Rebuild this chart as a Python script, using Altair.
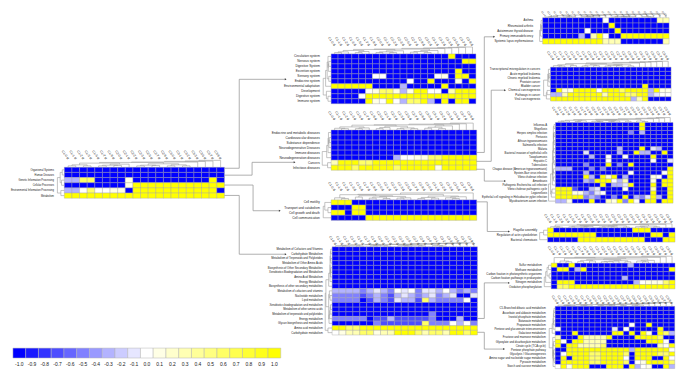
import altair as alt
import pandas as pd

# ---------- values ----------
CODE = {"B": -1.0, "d": -0.7, "p": -0.5, "l": -0.3, "x": -0.1, "w": 0.0,
        "c": 0.1, "q": 0.3, "m": 0.6, "Y": 1.0}
BLUE = "BBBBBBBBBBBBBBBBBBBBB"
COLUMNS = ["C1-0 d", "C1-1 d", "C1-2 d", "C1-3 d", "C1-5 d", "C1-7 d", "C1-9 d",
           "C2-0 d", "C2-1 d", "C2-2 d", "C2-3 d", "C2-5 d", "C2-7 d", "C2-9 d",
           "C3-0 d", "C3-1 d", "C3-2 d", "C3-3 d", "C3-5 d", "C3-7 d", "C3-9 d"]
LEGEND = [-1.0, -0.9, -0.8, -0.7, -0.6, -0.5, -0.4, -0.3, -0.2, -0.1, 0.0,
          0.1, 0.2, 0.3, 0.4, 0.5, 0.6, 0.7, 0.8, 0.9, 1.0]

A_rows = ["Organismal Systems", "Human Diseases", "Genetic Information Processing",
          "Cellular Processes", "Environmental Information Processing", "Metabolism"]
A_vals = [BLUE, BLUE, "llmmBBBBcBBBBBBBBBBYB", "BBBBBBBBcYYYYYYYYYYYY",
          "llwmwwccBYYYYYYYYYYYB", "YYYYYYYYYYYYYYYYYYYYY"]
A_coltree = [.2, .35, .2, .6, .2, .3, .25, .45, .7, .2, .3, .25, .5, .2, .35, .2, .75, .85, .9, 1]
A_rowtree = [.3, .6, .4, 1, .5]

B_rows = ["Circulation system", "Nervous system", "Digestive System", "Excretion system",
          "Sensory system", "Endocrine system", "Environmental adaptation", "Development",
          "Digestive system", "Immune system"]
B_vals = ["BBBBBBBBBBBBBBBBBYBBB", "BBBBBBBBBBBBBBBBBBBYY", BLUE, "BBBBBBBBBBBBBBBBBBYBB",
          "BBBBBBwwBBBBBBBwcBYYB", "BBBBBBBBBBBwBBYBBBcBY", "YYYYYYBBBBlBBBBBYBBBB",
          "BBBBBwcmmclcYYwwBqYYY", "BBBBwYYYYYYYYYYYYYYYY", "BBBBBYcwYwlmmYlBYBYYB"]
B_coltree = [.2, .3, .5, .2, .35, .65, .2, .3, .2, .45, .7, .25, .35, .2, .5, .8, .85, .9, .95, 1]
B_rowtree = [.4, .3, .35, .5, .3, .7, 1, .6, .4]

C_rows = ["Endocrine and metabolic diseases", "Cardiovascular diseases", "Substance dependence",
          "Neurodegenerative Diseases", "Immune diseases", "Neurodegeneration diseases",
          "Cancers", "Infectious diseases"]
C_vals = [BLUE, BLUE, BLUE, BLUE, BLUE, "BBBBBBBBBlwwccmmYYYYY",
          "qYYYmmYYYYYYYYYYYYYYY", "YYYmYYYYYmYYYYYcYYYYY"]
C_coltree = [.25, .2, .45, .2, .3, .7, .2, .35, .55, .2, .3, .2, .75, .25, .4, .2, .6, .85, .9, 1]
C_rowtree = [.3, .2, .25, .35, .5, 1, .4]

D_rows = ["Cell motility", "Transport and catabolism", "Cell growth and death", "Cell communication"]
D_vals = ["YYYBBBBBBBBBBBBBBBBBB", "BBBYYBBBBBBBBBBBBBBBB", "YYBYYBBBBBBBBBBBBBBBB",
          "BBBBBYYYYYYYYYYYYYYYY"]
D_coltree = [.3, .2, .75, .4, .6, .25, .4, .2, .5, .25, .3, .8, .2, .35, .25, .55, .3, .2, .45, 1]
D_rowtree = [.8, .4, 1]

E_rows = ["Metabolism of Cofactors and Vitamins", "Carbohydrate Metabolism",
          "Metabolism of Terpenoids and Polyketides", "Metabolism of Other Amino Acids",
          "Biosynthesis of Other Secondary Metabolites", "Xenobiotics Biodegradation and Metabolism",
          "Amino Acid Metabolism", "Energy Metabolism",
          "Biosynthesis of other secondary metabolites", "Metabolism of cofactors and vitamins",
          "Nucleotide metabolism", "Lipid metabolism", "Xenobiotics biodegradation and metabolism",
          "Metabolism of other amino acids", "Metabolism of terpenoids and polyketides",
          "Energy metabolism", "Glycan biosynthesis and metabolism", "Amino acid metabolism",
          "Carbohydrate metabolism"]
E_vals = [BLUE, BLUE, BLUE, BLUE, BLUE, BLUE, BLUE, BLUE, BLUE,
          "llllplxlpwxwpxxlwlplp", "ppppdplpdlxlplxplxBBx", "ppppBdlpdxlldmlppppwB",
          BLUE, BLUE, "BBBBBBBBBBBBBBpBBBBBB", "pppppBddldddddpBBBlBB",
          "BBBBBBpddddddmpppwlwp", "YYmmYYYYYYYYYYYYYYYYY", "wcqqmmcqqYYYmqmmqYYmY"]
E_coltree = [.3, .2, .4, .2, .5, .25, .35, .2, .6, .3, .2, .4, .25, .65, .3, .2, .8, .9, .95, 1]
E_rowtree = [.2, .25, .2, .3, .2, .25, .3, .5, .9, .4, .3, .5, .25, .3, .35, .45, 1, .6]

F_rows = ["Asthma", "Rheumatoid arthritis", "Autoimmune thyroid disease",
          "Primary immunodeficiency", "Systemic lupus erythematosus"]
F_vals = ["BBBBBBBBBBwBBBBBBBBqq", "BBBBBBBBBBBYBBBBBBBBB", "BBBBBBBwBBBBYBBBBBBBB",
          "BBBBBBlBqYwBBYYYYYYYY", "YYYYYYYYYYqqqBBBBBBBq"]
F_coltree = [.2, .3, .5, .2, .25, .7, .3, .2, .4, .6, .75, .2, .3, .25, .35, .85, .3, .2, .9, 1]
F_rowtree = [.5, .4, .7, 1]

G_rows = ["Transcriptional misregulation in cancers", "Acute myeloid leukemia",
          "Chronic myeloid leukemia", "Prostate cancer", "Bladder cancer",
          "Chemical carcinogenesis", "Pathways in cancer", "Viral carcinogenesis"]
G_vals = [BLUE, BLUE, BLUE, BLUE, "BBBBBBBBBBBBBBBBYBBBB", "BYccYYYYwYYYmYYYYlYcc",
          "llqYYYYYYqYYYmmYYlxww", "YYYYYYYYYYYYYYlqYBBBB"]
G_coltree = [.25, .2, .4, .3, .6, .2, .35, .25, .5, .2, .3, .25, .4, .2, .7, .8, .85, .9, .95, 1]
G_rowtree = [.3, .2, .25, .4, 1, .5, .6]

H_rows = ["Influenza A", "Shigellosis", "Herpes simplex infection", "Pertussis",
          "African trypanosomiasis", "Salmonella infection", "Malaria",
          "Bacterial invasion of epithelial cells", "Toxoplasmosis", "Hepatitis C", "Tuberculosis",
          "Chagas disease (American trypanosomiasis)", "Epstein-Barr virus infection",
          "Vibrio cholerae infection", "Amoebiasis", "Pathogenic Escherichia coli infection",
          "Vibrio cholerae pathogenic cycle", "Legionellosis",
          "Epithelial cell signaling in Helicobacter pylori infection",
          "Mycobacterium avium infection"]
H_vals = ["BBBBBBBBBBBBBBBYBBBBB", "BBBBBBBBBBBBBBBYBBBBB", "BBBBBBBBBBBBBpBlBBBBB",
          BLUE, BLUE, BLUE, "BBBBBBBBBBBlBBBYBxlBB", "BBBBBxBBBBBlBBYllBBYB",
          "BBBBBBlBBwBBwBBBBYBBB", "BBBBBBBBBwBBBBBBBwBBx", "BBBBBpBBBYBpBYBBBBBBB",
          "lllBBBpBpBBBBBBBBBBBY", "BBBBBlBBBBBBBwBBBBBwY", "BBBBBYlBYcYBlBBBBcwBY",
          "BBBBBlpYYYwlqBBBBcBYY", "BBBBBBBBYBllxYBBBYBYY", "YYYdBBlxBBBBwBBBBqBBY",
          "YYYcclpxwBBBBBBBBYBBY", "YYYYYplpBBpBYBlpxYlBY", "llcBBBYBBqcYpYwBYYBYY"]
H_coltree = [.25, .3, .45, .2, .35, .6, .25, .2, .4, .2, .3, .5, .25, .65, .3, .2, .75, .85, .9, 1]
H_rowtree = [.2, .3, .2, .25, .2, .3, .25, .35, .3, .2, .4, .3, .35, .3, .45, .7, .5, .6, 1]

I_rows = ["Flagellar assembly", "Regulation of actin cytoskeleton", "Bacterial chemotaxis"]
I_vals = ["YBBBBBBBBBBBBBYYYBBBB", "YYYYYYYYBBBBBBBBBYYBY", "BBBBBYYYYYYYYYYYBBBYY"]
I_coltree = [.3, .2, .7, .25, .4, .2, .35, .6, .2, .3, .25, .5, .2, .8, .3, .2, .45, .25, .9, 1]
I_rowtree = [.5, 1]

J_rows = ["Sulfur metabolism", "Methane metabolism", "Carbon fixation in photosynthetic organisms",
          "Carbon fixation pathways in prokaryotes", "Nitrogen metabolism", "Oxidative phosphorylation"]
J_vals = ["YBBYBBBBBBBBBlBBBBBBB", "BYYBlYBBBBBBBBBBBBBBY", BLUE, "BBBBBBBBBBBBlBBBBBBBB",
          "BYYYBBBBBBBBBBlwcccmY", "BmmYYYYYYYYYYYYYYYYYY"]
J_coltree = [.8, .3, .2, .7, .25, .4, .3, .5, .2, .25, .3, .35, .2, .6, .3, .2, .4, .85, .9, 1]
J_rowtree = [.4, .6, .3, .8, 1]

K_rows = ["C5-Branched dibasic acid metabolism", "Ascorbate and aldarate metabolism",
          "Inositol phosphate metabolism", "Butanoate metabolism", "Propanoate metabolism",
          "Pentose and glucuronate interconversions", "Galactose metabolism",
          "Fructose and mannose metabolism", "Glyoxylate and dicarboxylate metabolism",
          "Citrate cycle (TCA cycle)", "Pentose phosphate pathway", "Glycolysis / Gluconeogenesis",
          "Amino sugar and nucleotide sugar metabolism", "Pyruvate metabolism",
          "Starch and sucrose metabolism"]
K_vals = [BLUE, BLUE, BLUE, BLUE, "BBBBBBBBBBBBBwBBYBBBB", "wBBBBBBBBBxBwBBBBBYBB",
          "BBBYBBBBBBYYBYBYcBYml", "qBBBYqqqqYBBBBYYYYmBB", "YwBYYqqqqBBBBBBBYYYwB",
          "YBYYqqqqmBBBBBBBBBqwY", "BBYYYYYYYYYYYlYYYYYYw", "BwYYYYmmYYYYmBYYYYmmY",
          "BYBYYYmmYYYYwBYYYBBYw", "BYYYYYmmYYYYmBwcYYYYm", "wYcYYYBBBYYYBYlwcBBYl"]
K_coltree = [.3, .2, .25, .35, .2, .3, .45, .2, .3, .25, .4, .2, .5, .25, .3, .6, .75, .85, .9, 1]
K_rowtree = [.2, .25, .3, .25, .35, .5, 1, .4, .3, .35, .25, .3, .2, .35]

# ---------- layout (page pixels) ----------
M = 8
W, H = 677, 363
CELL_STROKE = "#a4a4a4"
TREE = "#9a9a9a"
LINK = "#8c8c8c"
TEXT = "#1a1a1a"
# rows, values, trees, x0, x1, y0, y1, column-tree height, row-tree width,
# gap to column labels, gap to row labels, row font, column font
PANELS = [
    (A_rows, A_vals, A_coltree, A_rowtree, 65, 227, 167, 198.3, 7, 7, 9, 11, 2.6, 3.4),
    (B_rows, B_vals, B_coltree, B_rowtree, 335, 481.5, 52.3, 102.7, 7, 8, 9, 12, 3.2, 3.4),
    (C_rows, C_vals, C_coltree, C_rowtree, 335, 482.3, 129.3, 170, 7, 9, 11, 12, 3.2, 3.4),
    (D_rows, D_vals, D_coltree, D_rowtree, 335, 482.3, 200, 220.7, 7, 8, 10, 12, 3.2, 3.4),
    (E_rows, E_vals, E_coltree, E_rowtree, 336, 483, 247.5, 336.7, 4, 7, 3, 10, 2.8, 3.4),
    (F_rows, F_vals, F_coltree, F_rowtree, 549, 677, 15.7, 42.3, 4, 3, 2, 10, 2.9, 2.2),
    (G_rows, G_vals, G_coltree, G_rowtree, 557, 679, 65.7, 100, 6, 7, 8, 11, 2.9, 3.4),
    (H_rows, H_vals, H_coltree, H_rowtree, 562, 681, 121.7, 203.3, 5, 7, 8, 9, 2.8, 3.4),
    (I_rows, I_vals, I_coltree, I_rowtree, 554, 683, 228.3, 242.7, 4, 8, 6, 11, 2.9, 3.4),
    (J_rows, J_vals, J_coltree, J_rowtree, 557.7, 683, 264, 290, 7, 7, 9, 10, 2.9, 3.4),
    (K_rows, K_vals, K_coltree, K_rowtree, 561.7, 682.7, 307.7, 370.7, 4, 6, 3, 10, 2.8, 3.4),
]
LINKS = [
    [(227, 168), (242, 168), (242, 78), (289, 78)],
    [(227, 175), (255, 175), (255, 162), (298, 162)],
    [(227, 185), (256, 185), (256, 211), (283, 211)],
    [(227, 195.5), (242, 195.5), (242, 255), (289, 255)],
    [(482, 152), (490, 152), (490, 35), (500, 35)],
    [(482, 161), (497, 161), (497, 89), (511, 89)],
    [(482, 169), (490, 169), (490, 181), (511, 181)],
    [(482, 202), (493, 202), (493, 232), (515, 232)],
    [(483, 320), (490, 320), (490, 284), (515, 284)],
    [(483, 334), (490, 334), (490, 351), (510, 351)],
]

colour = alt.Color("v:Q", legend=None,
                   scale=alt.Scale(domain=[-1, 0, 1], range=["#0000ff", "#ffffff", "#ffff00"],
                                   interpolate="rgb"))


def band(labels, a, b):
    return alt.Scale(domain=labels, range=[a - M, b - M], padding=0)


def tree_segments(heights):
    """Adjacent-leaf merge heights -> the three strokes of each merge."""
    clusters = [(float(i), 0.0) for i in range(len(heights) + 1)]
    gaps = list(heights)
    segs = []
    while gaps:
        k = gaps.index(min(gaps))
        (pa, ha), (pb, hb) = clusters[k], clusters[k + 1]
        h = gaps.pop(k)
        segs += [(pa, ha, pa, h), (pb, hb, pb, h), (pa, h, pb, h)]
        clusters[k:k + 2] = [((pa + pb) / 2, h)]
    return pd.DataFrame(segs, columns=["p1", "h1", "p2", "h2"])


layers = []
for rows, vals, coltree, rowtree, x0, x1, y0, y1, ch, rw, cgap, rgap, rfont, cfont in PANELS:
    assert all(len(s) == 21 for s in vals) and len(vals) == len(rows)
    assert len(coltree) == 20 and len(rowtree) == len(rows) - 1
    cells = pd.DataFrame([{"r": r, "c": c, "v": CODE[ch_]}
                          for r, s in zip(rows, vals) for c, ch_ in zip(COLUMNS, s)])
    layers.append(alt.Chart(cells).mark_rect(stroke=CELL_STROKE, strokeWidth=0.4).encode(
        x=alt.X("c:N", title=None, scale=band(COLUMNS, x0, x1),
                axis=alt.Axis(orient="top", offset=-(y0 - cgap - M), domain=False, ticks=False,
                              labelAngle=55, labelAlign="right", labelBaseline="middle",
                              labelPadding=0, labelFontSize=cfont, labelOverlap=False,
                              labelColor=TEXT, labelFont="Liberation Sans")),
        y=alt.Y("r:N", title=None, scale=band(rows, y0, y1),
                axis=alt.Axis(orient="left", offset=-(x0 - rgap - M), domain=False, ticks=False,
                              labelPadding=0, labelFontSize=rfont, labelOverlap=False, labelLimit=200,
                              labelColor=TEXT, labelFont="Liberation Sans")),
        color=colour))
    # column dendrogram
    seg = tree_segments(coltree)
    layers.append(alt.Chart(seg).mark_rule(color=TREE, strokeWidth=0.6).encode(
        x=alt.X("p1:Q", axis=None, scale=alt.Scale(domain=[-.5, 20.5], range=[x0 - M, x1 - M], zero=False, nice=False)),
        x2="p2:Q",
        y=alt.Y("h1:Q", axis=None, scale=alt.Scale(domain=[0, 1], range=[y0 - M, y0 - ch - M], zero=False, nice=False)),
        y2="h2:Q"))
    # row dendrogram
    n = len(rows)
    seg = tree_segments(rowtree)
    layers.append(alt.Chart(seg).mark_rule(color=TREE, strokeWidth=0.6).encode(
        y=alt.Y("p1:Q", axis=None, scale=alt.Scale(domain=[-.5, n - .5], range=[y0 - M, y1 - M], zero=False, nice=False)),
        y2="p2:Q",
        x=alt.X("h1:Q", axis=None, scale=alt.Scale(domain=[0, 1], range=[x0 - M, x0 - rw - M], zero=False, nice=False)),
        x2="h2:Q"))

# links between panels, drawn on a scale of the page itself
page_x = alt.Scale(domain=[M, M + W], range=[0, W], zero=False, nice=False)
page_y = alt.Scale(domain=[M, M + H], range=[0, H], zero=False, nice=False)
link_df = pd.DataFrame([{"x1": a[0], "y1": a[1], "x2": b[0], "y2": b[1]}
                        for path in LINKS for a, b in zip(path, path[1:])])
layers.append(alt.Chart(link_df).mark_rule(color=LINK, strokeWidth=0.7).encode(
    x=alt.X("x1:Q", axis=None, scale=page_x), x2="x2:Q",
    y=alt.Y("y1:Q", axis=None, scale=page_y), y2="y2:Q"))
head_df = pd.DataFrame([{"x": p[-1][0], "y": p[-1][1]} for p in LINKS])
layers.append(alt.Chart(head_df).mark_point(shape="triangle-right", filled=True, size=4,
                                            color="#333333", opacity=1).encode(
    x=alt.X("x:Q", axis=None, scale=page_x),
    y=alt.Y("y:Q", axis=None, scale=page_y)))

# colour key
key_labels = [f"{v:.1f}" for v in LEGEND]
key = pd.DataFrame({"k": key_labels, "r": ["key"] * len(LEGEND), "v": LEGEND})
layers.append(alt.Chart(key).mark_rect(stroke="#b4b4b4", strokeWidth=0.5).encode(
    x=alt.X("k:N", title=None, sort=key_labels, scale=band(key_labels, 13, 284),
            axis=alt.Axis(orient="bottom", offset=(363.5 - M) - H, domain=False, ticks=False,
                          labelAngle=0, labelPadding=0, labelFontSize=5, labelOverlap=False,
                          labelColor=TEXT, labelFont="Liberation Sans", labelBaseline="top")),
    y=alt.Y("r:N", axis=None, scale=band(["key"], 350, 360)),
    color=colour))

chart = alt.layer(*layers).resolve_scale(x="independent", y="independent").properties(
    width=W, height=H, padding=0, background="white",
    autosize=alt.AutoSizeParams(type="none", contains="padding"),
).configure_view(stroke=None)

chart.save("out.html", embed_options={"renderer": "svg", "actions": False})
